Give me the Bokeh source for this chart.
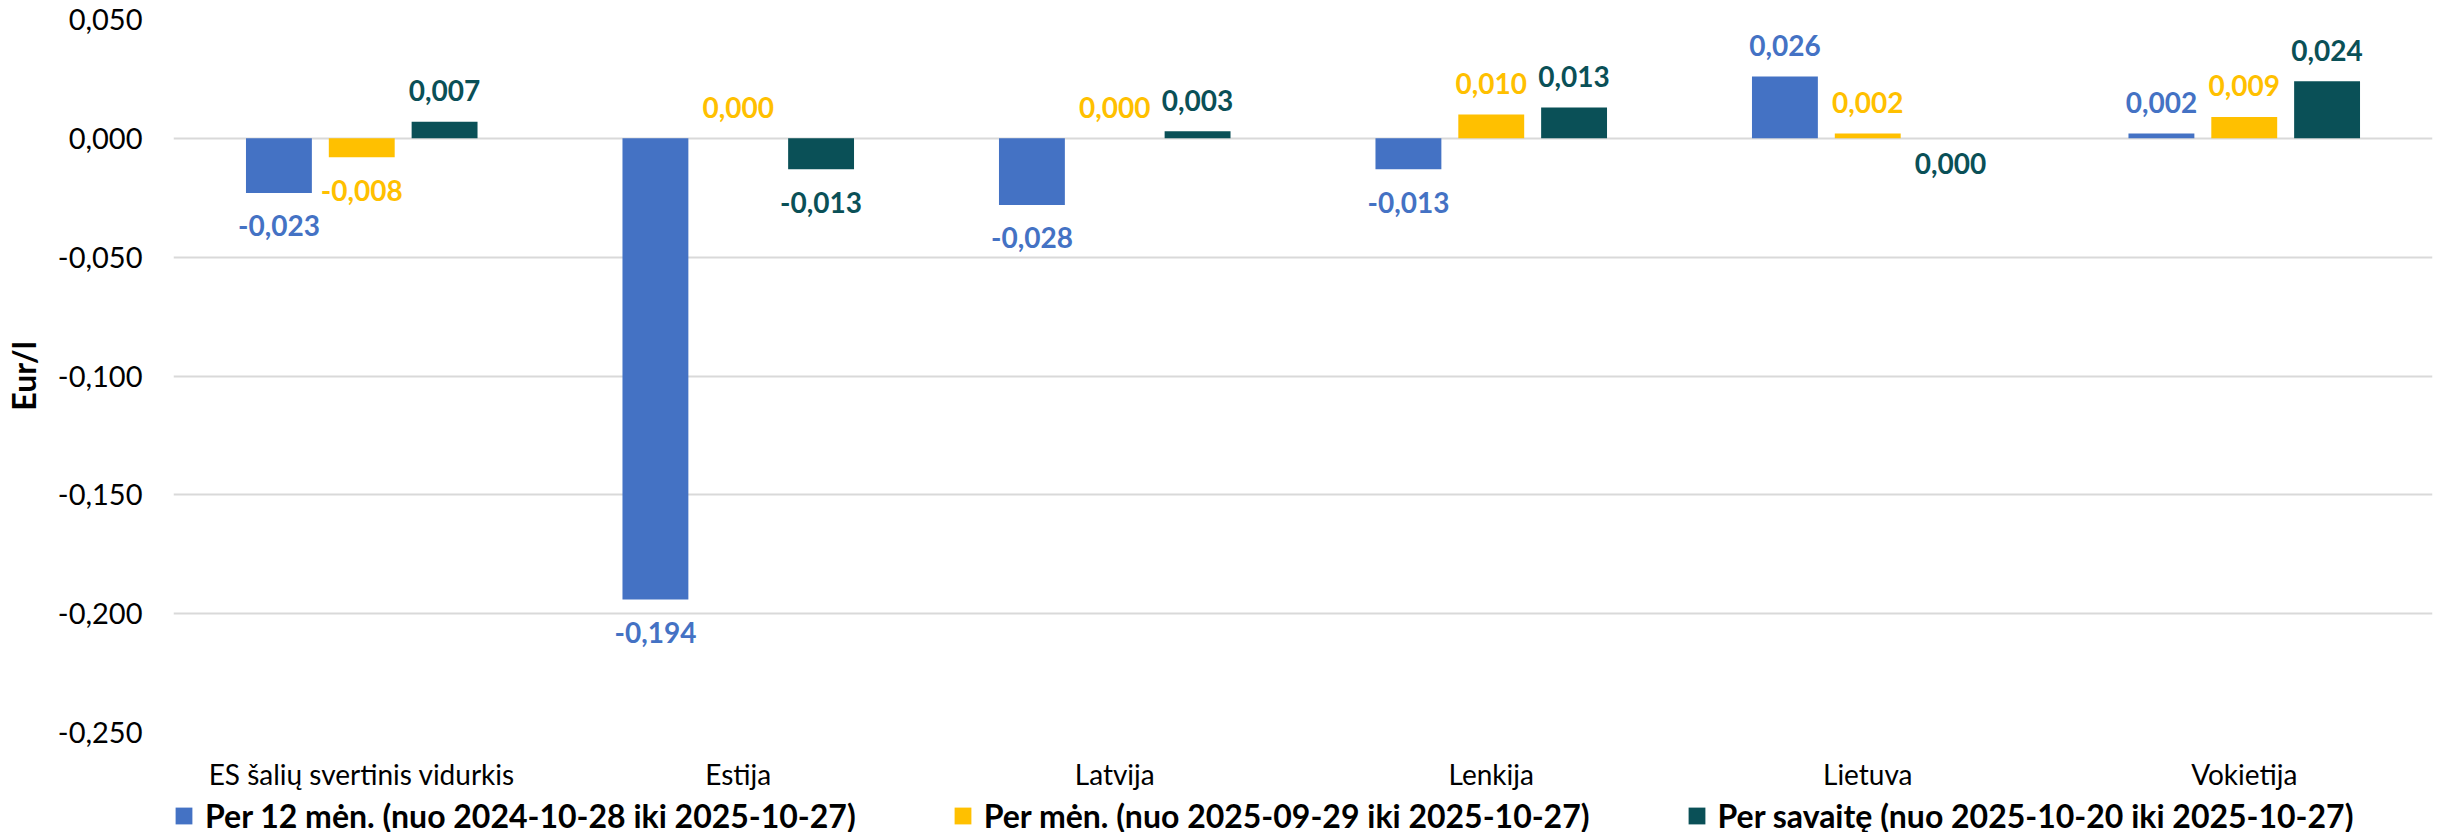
import math
from bokeh.plotting import figure
from bokeh.layouts import column
from bokeh.models import (ColumnDataSource, FactorRange, Range1d, FixedTicker,
                          Legend, LegendItem)
from bokeh.transform import dodge
from bokeh.core.properties import value
from bokeh.embed import file_html
from bokeh.resources import INLINE

# ---------------- data ----------------
categories = ["ES šalių svertinis vidurkis", "Estija", "Latvija",
              "Lenkija", "Lietuva", "Vokietija"]
per_12_men = [-0.023, -0.194, -0.028, -0.013, 0.026, 0.002]
per_men = [-0.008, 0.000, 0.000, 0.010, 0.002, 0.009]
per_savaite = [0.007, -0.013, 0.003, 0.013, -0.0, 0.024]  # Lietuva: rounds to 0,000 (below axis)

series_names = ["Per 12 mėn. (nuo 2024-10-28 iki 2025-10-27)",
                "Per mėn. (nuo 2025-09-29 iki 2025-10-27)",
                "Per savaitę (nuo 2025-10-20 iki 2025-10-27)"]
y_ticks = [-0.25, -0.20, -0.15, -0.10, -0.05, 0.0, 0.05]
y_label = "Eur/l"

# ---------------- styling ----------------
FONT = "Lato"
colors = ["#4472C4", "#FFC000", "#0A5057"]
offsets = [-0.22, 0.0, 0.22]
BAR_W = 0.175
all_series = [per_12_men, per_men, per_savaite]


def fmt(v):
    if round(v, 3) == 0:
        v = 0.0
    return f"{v:.3f}".replace(".", ",")


def label_offset(v):
    if v < 0:
        return 33
    if v == 0 and math.copysign(1, v) < 0:
        return 25
    return -31


p = figure(x_range=FactorRange(*categories, range_padding=0),
           y_range=Range1d(-0.25, 0.05),
           frame_width=2259, frame_height=713,
           output_backend="svg", toolbar_location=None,
           min_border_left=168, min_border_right=13,
           min_border_top=19, min_border_bottom=57)

p.outline_line_color = None
p.background_fill_color = "white"
p.border_fill_color = "white"

for name, vals, col, off in zip(series_names, all_series, colors, offsets):
    src = ColumnDataSource(dict(
        cat=categories,
        val=vals,
        label=[fmt(v) for v in vals],
        yoff=[label_offset(v) for v in vals],
    ))
    p.vbar(x=dodge("cat", off, range=p.x_range), top="val", bottom=0,
           width=BAR_W, source=src, fill_color=col, line_color=None)
    p.text(x=dodge("cat", off, range=p.x_range), y="val", text="label",
           y_offset="yoff", source=src, text_align="center",
           text_baseline="middle", text_color=col,
           text_font=value(FONT), text_font_style="bold",
           text_font_size="28px")

# grid
p.xgrid.grid_line_color = None
p.ygrid.grid_line_color = "#D9D9D9"
p.ygrid.grid_line_width = 2
p.ygrid.ticker = FixedTicker(ticks=y_ticks)

# y axis
ya = p.yaxis[0]
ya.ticker = FixedTicker(ticks=y_ticks)
ya.major_label_overrides = {t: fmt(t) for t in y_ticks}
ya.axis_line_color = None
ya.major_tick_line_color = None
ya.minor_tick_line_color = None
ya.major_tick_out = 0
ya.major_tick_in = 0
ya.major_label_standoff = 31
ya.major_label_text_font = FONT
ya.major_label_text_font_size = "29px"
ya.major_label_text_color = "black"
ya.axis_label = y_label
ya.axis_label_text_font = FONT
ya.axis_label_text_font_style = "bold"
ya.axis_label_text_font_size = "32px"
ya.axis_label_text_color = "black"
ya.axis_label_standoff = 12

# x axis
xa = p.xaxis[0]
xa.axis_line_color = None
xa.major_tick_line_color = None
xa.minor_tick_line_color = None
xa.major_tick_out = 0
xa.major_tick_in = 0
xa.major_label_standoff = 24
xa.major_label_text_font = FONT
xa.major_label_text_font_size = "28px"
xa.major_label_text_color = "black"

# ---------------- legend strip ----------------
lg = figure(width=2440, height=43, x_axis_type=None, y_axis_type=None,
            output_backend="svg", toolbar_location=None, min_border=0)
lg.outline_line_color = None
lg.grid.visible = False
lg.background_fill_color = "white"
lg.border_fill_color = "white"

items = []
for name, vals, col in zip(series_names, all_series, colors):
    r = lg.vbar(x=list(range(len(categories))), top=vals, width=0.5,
                fill_color=col, line_color=None, visible=False)
    items.append(LegendItem(label=name, renderers=[r]))

legend = Legend(items=items, orientation="horizontal", location=(0, 1),
                glyph_width=21, glyph_height=21, label_standoff=11, spacing=96,
                label_height=21, padding=0, margin=0, border_line_color=None,
                background_fill_alpha=0, inactive_fill_alpha=0,
                label_text_font=FONT, label_text_font_style="bold",
                label_text_font_size="32px", label_text_color="black")
lg.add_layout(legend, "center")

layout = column(p, lg, spacing=0)
open("out.html", "w").write(file_html(layout, INLINE))
